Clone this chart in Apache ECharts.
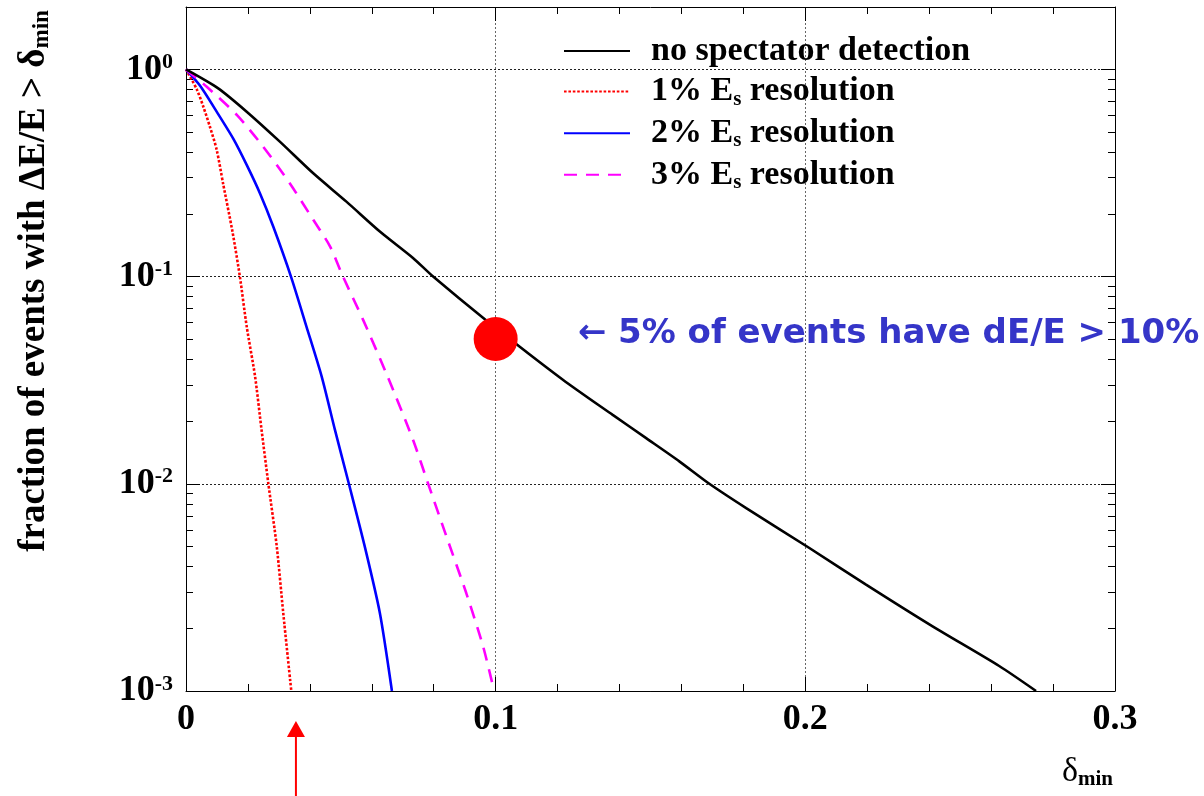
<!DOCTYPE html>
<html>
<head>
<meta charset="utf-8">
<script src="https://cdn.jsdelivr.net/npm/echarts@6/dist/echarts.min.js"></script>
<style>
  html, body { margin: 0; padding: 0; background: #ffffff; }
  #main { width: 1204px; height: 796px; }
</style>
</head>
<body>
<div id="main"></div>
<script>
// Fraction of events whose relative energy error exceeds delta_min

const seriesNames = [
  'no spectator detection',
  '1% Es resolution',
  '2% Es resolution',
  '3% Es resolution'
];
const legendLabels = [
  '{r|no spectator detection}',
  '{r|1% E}{s|s}{r| resolution}',
  '{r|2% E}{s|s}{r| resolution}',
  '{r|3% E}{s|s}{r| resolution}'
];

// no spectator detection
const deltaNoSpec = [0, 0.0104, 0.0196, 0.0303, 0.0411, 0.0518, 0.0626, 0.0733, 0.0798, 0.0965,
  0.1217, 0.1378, 0.1486, 0.1594, 0.169, 0.1809, 0.2013, 0.2196, 0.2411, 0.2626, 0.2745];
const fracNoSpec = [1.0, 0.81, 0.625, 0.448, 0.315, 0.230, 0.165, 0.123, 0.100, 0.0623,
  0.0318, 0.0215, 0.0166, 0.0128, 0.0100, 0.00763, 0.0049, 0.00326, 0.00205, 0.00132, 0.001];

// 1% spectator energy resolution
const deltaRes1 = [0, 0.0035, 0.0056, 0.0077, 0.0099, 0.012, 0.0150, 0.0174, 0.0196, 0.0223,
  0.0244, 0.0266, 0.0293, 0.0314, 0.034];
const fracRes1 = [1.0, 0.80, 0.66, 0.53, 0.41, 0.28, 0.165, 0.1, 0.0574, 0.033,
  0.0182, 0.01, 0.005, 0.00238, 0.001];

// 2% spectator energy resolution
const deltaRes2 = [0, 0.0045, 0.0099, 0.0153, 0.0196, 0.0239, 0.0282, 0.0339, 0.0389, 0.0438,
  0.0481, 0.0526, 0.0577, 0.0626, 0.0665];
const fracRes2 = [1.0, 0.835, 0.625, 0.462, 0.346, 0.252, 0.174, 0.1, 0.0574, 0.033,
  0.0182, 0.01, 0.005, 0.00238, 0.001];

// 3% spectator energy resolution
const deltaRes3 = [0, 0.0067, 0.0164, 0.0249, 0.0335, 0.0411, 0.0465, 0.0507, 0.0572, 0.0653,
  0.0733, 0.0782, 0.0841, 0.0905, 0.0959, 0.0995];
const fracRes3 = [1.0, 0.824, 0.603, 0.424, 0.282, 0.188, 0.14, 0.1, 0.0618, 0.0324,
  0.0163, 0.01, 0.00557, 0.00297, 0.00165, 0.001];

// highlighted point: 5% of events have dE/E > 10%
const markerDelta = [0.1];
const markerFrac = [0.05];
const markerText = '\u2190 5% of events have dE/E > 10%';

// arrow under the delta axis
const arrowDelta = 0.0355;

// axis ranges and ticks
const xTickValues = [0, 0.1, 0.2, 0.3];
const yMajorTicks = [0.001, 0.01, 0.1, 1];
const yMinorTicks = [];
[0.001, 0.01, 0.1].forEach(function (d) {
  for (let k = 2; k <= 9; k++) yMinorTicks.push(+(k * d).toPrecision(3));
});

const SERIF = '"Liberation Serif", "Times New Roman", serif';
const pairs = (xs, ys) => xs.map((x, i) => [x, ys[i]]);

const chart = echarts.init(document.getElementById('main'), null, { renderer: 'canvas' });

const yLabelRich = {
  b: { fontFamily: SERIF, fontWeight: 'bold', fontSize: 36, lineHeight: 36, color: '#000' },
  sup: { fontFamily: SERIF, fontWeight: 'bold', fontSize: 22, lineHeight: 8, verticalAlign: 'top', color: '#000' }
};

function yLabelFormatter(v) {
  const e = Math.round(Math.log10(v));
  if (Math.abs(Math.log10(v) - e) > 1e-6) return '';
  return '{b|10}{sup|' + e + '}';
}

const xBase = {
  type: 'value', min: 0, max: 0.3, interval: 0.1,
  axisLine: { show: true, onZero: false, lineStyle: { color: '#000', width: 1 } },
  axisTick: { show: true, inside: true, length: 14, lineStyle: { color: '#000', width: 1 } },
  minorTick: { show: true, splitNumber: 5, length: 7, lineStyle: { color: '#000', width: 1 } },
  minorSplitLine: { show: false }
};

const yBase = {
  type: 'log', logBase: 10, min: 0.001, max: 2,
  axisLine: { show: false, onZero: false },
  splitLine: { show: false },
  axisLabel: { show: false },
  minorTick: { show: false }
};

const lineCommon = {
  type: 'line', showSymbol: false, symbol: 'none', clip: true,
  smooth: 0.25
};

const option = {
  backgroundColor: '#ffffff',
  animation: false,
  grid: { left: 186, right: 89, top: 7, bottom: 105, containLabel: false, show: false },
  legend: {
    orient: 'vertical',
    left: 558, top: 29,
    itemWidth: 66, itemHeight: 14, itemGap: 6.6,
    data: seriesNames,
    itemStyle: { opacity: 0, borderWidth: 0 },
    formatter: function (name) { return legendLabels[seriesNames.indexOf(name)]; },
    textStyle: {
      color: '#000', fontFamily: SERIF, fontWeight: 'bold', fontSize: 33,
      padding: [0, 0, 0, 16],
      rich: {
        r: { fontFamily: SERIF, fontWeight: 'bold', fontSize: 34, lineHeight: 36, color: '#000' },
        s: { fontFamily: SERIF, fontWeight: 'bold', fontSize: 21, lineHeight: 8, verticalAlign: 'bottom', color: '#000' }
      }
    },
    selectedMode: false
  },
  xAxis: [
    Object.assign({}, xBase, {
      position: 'bottom',
      axisLabel: {
        show: true, margin: 11, color: '#000',
        fontFamily: SERIF, fontWeight: 'bold', fontSize: 36,
        customValues: xTickValues,
        formatter: function (v) { return String(+v.toFixed(1)); }
      },
      splitLine: { show: true, lineStyle: { color: '#666', width: 1, type: [2, 2] } }
    }),
    Object.assign({}, xBase, {
      position: 'top',
      axisLabel: { show: false },
      splitLine: { show: false }
    })
  ],
  yAxis: [
    Object.assign({}, yBase, {
      position: 'left',
      axisLine: { show: true, onZero: false, lineStyle: { color: '#000', width: 1 } },
      axisTick: { show: true, inside: true, length: 14, customValues: yMajorTicks, lineStyle: { color: '#000' } },
      axisLabel: {
        show: true, margin: 13, customValues: yMajorTicks,
        formatter: yLabelFormatter, rich: yLabelRich
      },
      splitLine: { show: true, lineStyle: { color: '#222', width: 1, type: [2, 2] } }
    }),
    Object.assign({}, yBase, {
      position: 'left',
      axisTick: { show: true, inside: true, length: 7, customValues: yMinorTicks, lineStyle: { color: '#000' } }
    }),
    Object.assign({}, yBase, {
      position: 'right',
      axisLine: { show: true, onZero: false, lineStyle: { color: '#000', width: 1 } },
      axisTick: { show: true, inside: true, length: 14, customValues: yMajorTicks, lineStyle: { color: '#000' } }
    }),
    Object.assign({}, yBase, {
      position: 'right',
      axisTick: { show: true, inside: true, length: 7, customValues: yMinorTicks, lineStyle: { color: '#000' } }
    })
  ],
  series: [
    Object.assign({}, lineCommon, {
      name: seriesNames[0], data: pairs(deltaNoSpec, fracNoSpec), z: 4,
      lineStyle: { color: '#000000', width: 2.6, type: 'solid' }, itemStyle: { color: '#000000' }
    }),
    Object.assign({}, lineCommon, {
      name: seriesNames[1], data: pairs(deltaRes1, fracRes1), z: 3,
      lineStyle: { color: '#ff0000', width: 2.6, type: [2.6, 1.8] }, itemStyle: { color: '#ff0000' }
    }),
    Object.assign({}, lineCommon, {
      name: seriesNames[2], data: pairs(deltaRes2, fracRes2), z: 3,
      lineStyle: { color: '#0000ff', width: 2.6, type: 'solid' }, itemStyle: { color: '#0000ff' }
    }),
    Object.assign({}, lineCommon, {
      name: seriesNames[3], data: pairs(deltaRes3, fracRes3), z: 3,
      lineStyle: { color: '#ff00ff', width: 2.6, type: [13, 9] }, itemStyle: { color: '#ff00ff' }
    }),
    {
      name: 'marker', type: 'scatter', data: pairs(markerDelta, markerFrac),
      symbol: 'circle', symbolSize: 44, z: 5, clip: false,
      itemStyle: { color: '#ff0000', opacity: 1 },
      label: {
        show: true, position: 'right', distance: 60, offset: [0, -5],
        formatter: markerText,
        color: '#3535c8', fontFamily: '"DejaVu Sans", sans-serif', fontWeight: 'bold', fontSize: 34
      },
      emphasis: { disabled: true }
    }
  ]
};

chart.setOption(option);

// axis titles and the arrow below the delta axis
const arrowX = chart.convertToPixel({ xAxisIndex: 0 }, arrowDelta);
const axisBottom = 796 - 105;
chart.setOption({
  graphic: [
    {
      type: 'text', rotation: Math.PI / 2, x: 34, y: 281,
      style: {
        text: '{t|fraction of events with \u0394E/E > \u03b4}{s|min}',
        align: 'center', verticalAlign: 'middle',
        rich: {
          t: { fontFamily: SERIF, fontWeight: 'bold', fontSize: 37, lineHeight: 40, fill: '#000' },
          s: { fontFamily: SERIF, fontWeight: 'bold', fontSize: 23, lineHeight: 8, verticalAlign: 'bottom', fill: '#000' }
        }
      }
    },
    {
      type: 'text', x: 1113, y: 772,
      style: {
        text: '{t|\u03b4}{s|min}',
        align: 'right', verticalAlign: 'middle',
        rich: {
          t: { fontFamily: SERIF, fontSize: 34, lineHeight: 36, fill: '#000' },
          s: { fontFamily: SERIF, fontWeight: 'bold', fontSize: 21, lineHeight: 8, verticalAlign: 'bottom', fill: '#000' }
        }
      }
    },
    {
      type: 'line',
      shape: { x1: arrowX, y1: axisBottom + 44, x2: arrowX, y2: 796 },
      style: { stroke: '#ff0000', lineWidth: 2 }
    },
    {
      type: 'polygon',
      shape: { points: [[arrowX, axisBottom + 30], [arrowX - 9, axisBottom + 46], [arrowX + 9, axisBottom + 46]] },
      style: { fill: '#ff0000' }
    }
  ]
});
</script>
</body>
</html>
